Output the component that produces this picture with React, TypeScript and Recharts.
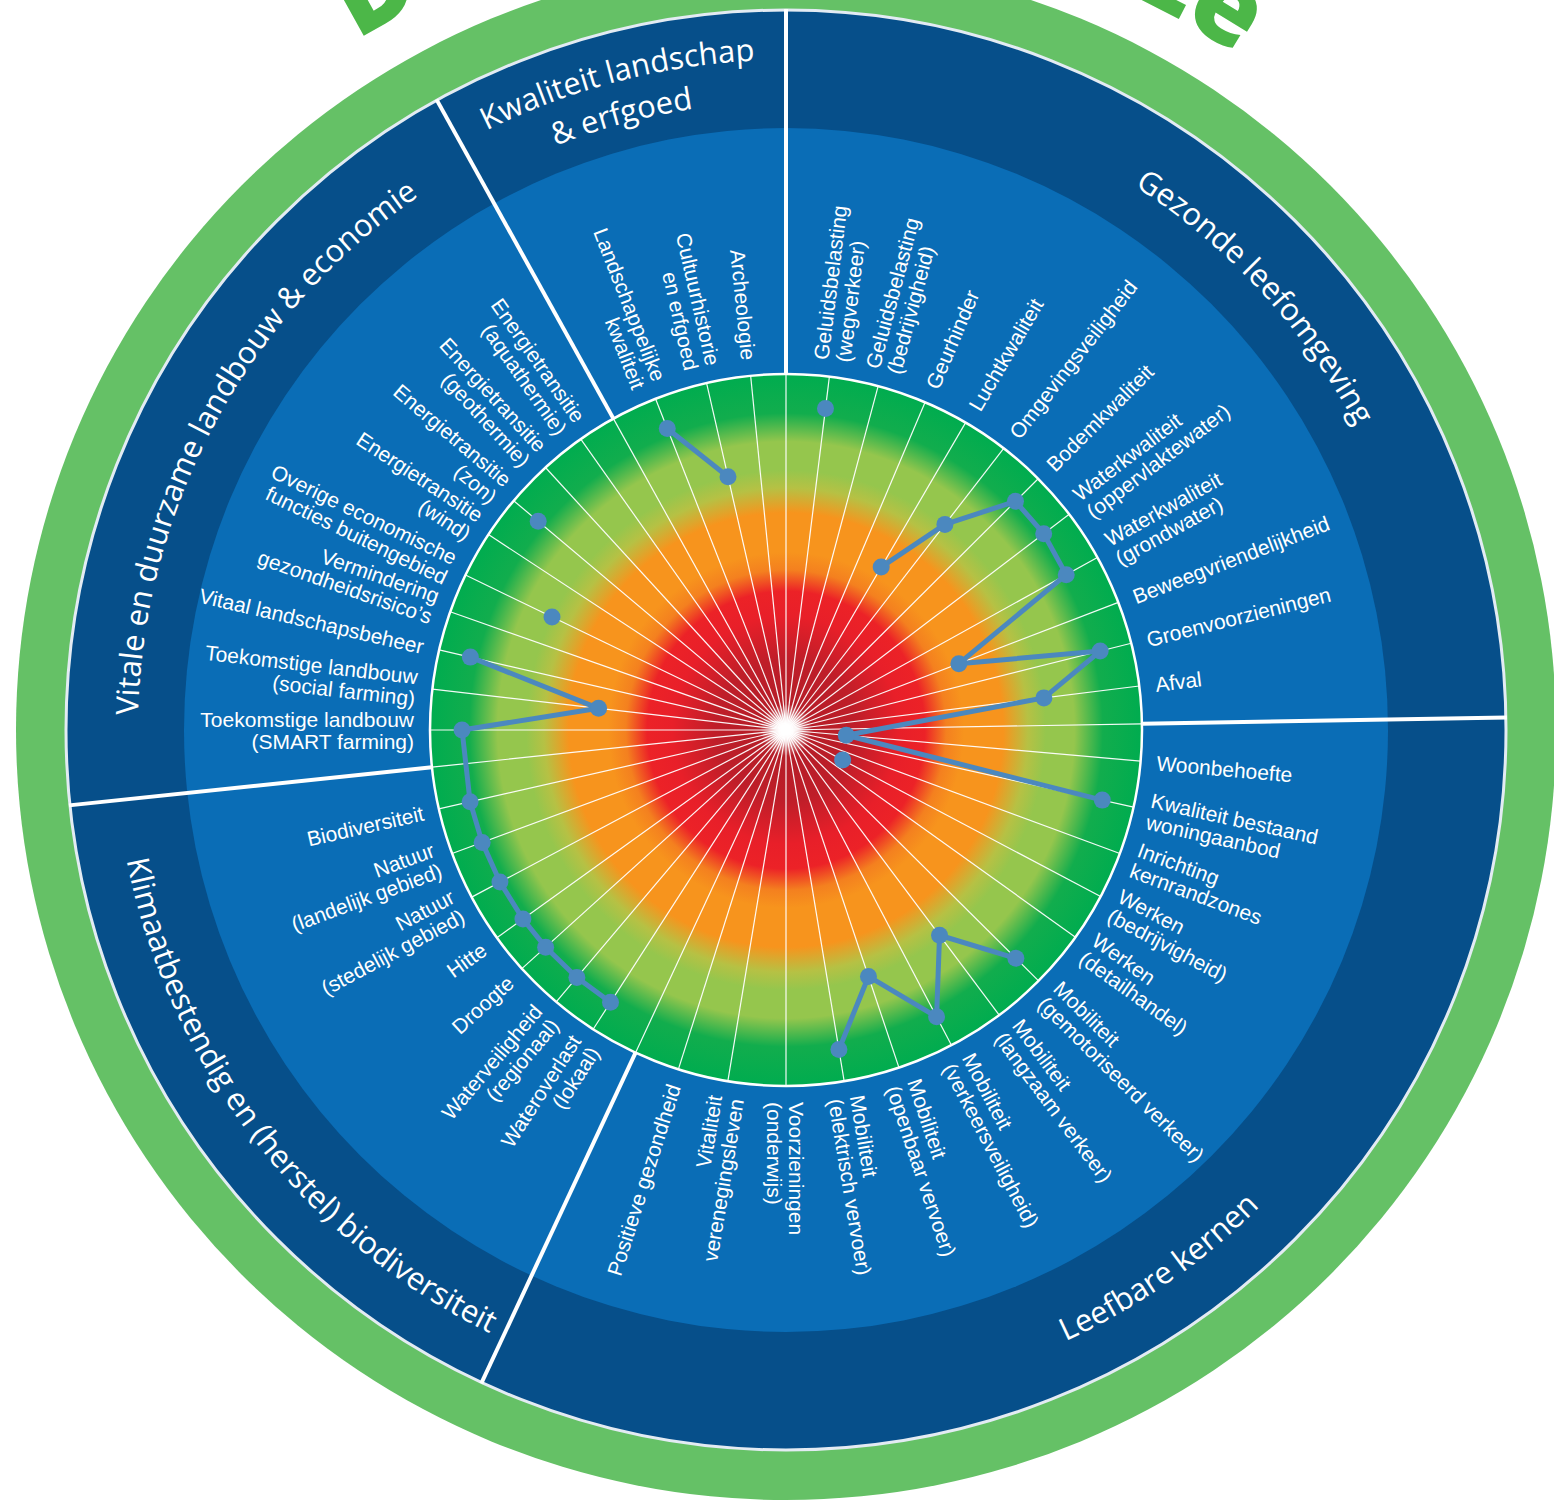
import React from 'react';
import { RadarChart, Radar, PolarGrid, PolarAngleAxis, PolarRadiusAxis } from 'recharts';

const W = 1554;
const H = 1503;
const CX = 786;
const CY = 730;
const WHEEL_R = 356;
const LABEL_R = 372;

// themes, clockwise from the top
const THEMES = [
  'Gezonde leefomgeving',
  'Leefbare kernen',
  'Klimaatbestendig en (herstel) biodiversiteit',
  'Vitale en duurzame landbouw & economie',
  'Kwaliteit landschap\n& erfgoed',
];

// indicator labels, clockwise from the top ("\n" = line break)
const LABELS = [
  'Geluidsbelasting\n(wegverkeer)',
  'Geluidsbelasting\n(bedrijvigheid)',
  'Geurhinder',
  'Luchtkwaliteit',
  'Omgevingsveiligheid',
  'Bodemkwaliteit',
  'Waterkwaliteit\n(oppervlaktewater)',
  'Waterkwaliteit\n(grondwater)',
  'Beweegvriendelijkheid',
  'Groenvoorzieningen',
  'Afval',
  'Woonbehoefte',
  'Kwaliteit bestaand\nwoningaanbod',
  'Inrichting\nkernrandzones',
  'Werken\n(bedrijvigheid)',
  'Werken\n(detailhandel)',
  'Mobiliteit\n(gemotoriseerd verkeer)',
  'Mobiliteit\n(langzaam verkeer)',
  'Mobiliteit\n(verkeersveiligheid)',
  'Mobiliteit\n(openbaar vervoer)',
  'Mobiliteit\n(elektrisch vervoer)',
  'Voorzieningen\n(onderwijs)',
  'Vitaliteit\nverenegingsleven',
  'Positieve gezondheid',
  'Wateroverlast\n(lokaal)',
  'Waterveiligheid\n(regionaal)',
  'Droogte',
  'Hitte',
  'Natuur\n(stedelijk gebied)',
  'Natuur\n(landelijk gebied)',
  'Biodiversiteit',
  'Toekomstige landbouw\n(SMART farming)',
  'Toekomstige landbouw\n(social farming)',
  'Vitaal landschapsbeheer',
  'Vermindering\ngezondheidsrisico’s',
  'Overige economische\nfuncties buitengebied',
  'Energietransitie\n(wind)',
  'Energietransitie\n(zon)',
  'Energietransitie\n(geothermie)',
  'Energietransitie\n(aquathermie)',
  'Landschappelijke\nkwaliteit',
  'Cultuurhistorie\nen erfgoed',
  'Archeologie',
];

// spoke of each indicator, degrees clockwise from north
const ANGLES = [
  7, 15, 23, 30.3, 37.7, 45.1, 52.7, 61, 69, 75.9, 82.9,
  95, 102.5, 110.3, 117.9, 125.6, 134.8, 143.2, 152.3, 161.5, 170.6, 180, 189.4, 197.6,
  212.8, 220.2, 227.9, 234.3, 242, 249.7, 257.2,
  270, 276.6, 283, 289.4, 295.8, 303.3, 310.1, 317.5, 324.8,
  338.5, 347.1, 354.3,
];

// score per indicator (0 = centre, 100 = rim); null = not scored
const SCORES: (number | null)[] = [
  91, null, null, 53, 73, 91, 91, 90, 52, 91, 73,
  17, 91, null, 18, null, 91, 72, 91, 73, 91, null, null, null,
  91, 91, 91, 91, 91, 91, 91,
  91, 53, 91, null, 73, null, 91, null, null,
  91, 73, null,
];

// spokes that separate the themes
const BOUNDARY_ANGLES = [0, 89, 205, 264, 331];

const data = LABELS.map((label, i) => ({ label, angle: ANGLES[i], score: SCORES[i] }));

const rad = (d: number) => (d * Math.PI) / 180;
const toXY = (r: number, deg: number): [number, number] => [
  CX + r * Math.sin(rad(deg)),
  CY - r * Math.cos(rad(deg)),
];
const arc = (r: number, from: number, to: number, sweep: 0 | 1) => {
  const [x1, y1] = toXY(r, from);
  const [x2, y2] = toXY(r, to);
  return `M${x1},${y1} A${r},${r} 0 0 ${sweep} ${x2},${y2}`;
};

// where the theme titles sit in the dark ring (one entry per text line)
const TITLE_LAYOUT = [
  [{ center: 47.3, r: 646, outward: true }],
  [{ center: 145.3, r: 672, outward: false }],
  [{ center: 232.5, r: 672, outward: false }],
  [{ center: 298.4, r: 648, outward: true }],
  [
    { center: 345.4, r: 670, outward: true },
    { center: 345, r: 628, outward: true },
  ],
];

const FONT = '"Liberation Sans", Arial, sans-serif';
const TITLE_FONT = '"Open Sans", sans-serif';
const LINE_COLOR = '#4b88bf';

const isScored = (i: number) => SCORES[i] != null;

function LabelTick(props: any) {
  const { payload } = props;
  const coord = payload?.coordinate;
  if (coord == null) return null;
  let theta = (90 - coord) % 360;
  if (theta < 0) theta += 360;
  let idx = 0;
  ANGLES.forEach((a, i) => {
    if (Math.abs(a - payload.value) < Math.abs(ANGLES[idx] - payload.value)) idx = i;
  });
  const [x, y] = toXY(LABEL_R, theta);
  const right = theta > 0.5 && theta <= 180.5;
  const rot = right ? theta - 90 : theta + 90;
  const lines = LABELS[idx].split('\n');
  const lh = 22;
  return (
    <text
      x={x}
      y={y}
      transform={`rotate(${rot} ${x} ${y})`}
      textAnchor={right ? 'start' : 'end'}
      fill="#ffffff"
      fontSize={21}
      fontFamily={FONT}
    >
      {lines.map((l, i) => (
        <tspan key={i} x={x} y={y + (i - (lines.length - 1) / 2) * lh + 8}>
          {l}
        </tspan>
      ))}
    </text>
  );
}

// the polyline breaks wherever an indicator has no score
function Trace(props: any) {
  const pts: any[] = props.points || [];
  let d = '';
  let open = false;
  pts.forEach((p, i) => {
    if (!isScored(i) || !Number.isFinite(p.x) || !Number.isFinite(p.y)) {
      open = false;
      return;
    }
    d += `${open ? 'L' : 'M'}${p.x},${p.y}`;
    open = true;
  });
  return <path d={d} fill="none" stroke={LINE_COLOR} strokeWidth={5} strokeLinejoin="round" strokeLinecap="round" />;
}

function Dot(props: any) {
  const { cx, cy, index } = props;
  if (!isScored(index) || !Number.isFinite(cx) || !Number.isFinite(cy)) return <g key={`d${index}`} />;
  return <circle key={`d${index}`} cx={cx} cy={cy} r={8.5} fill={LINE_COLOR} />;
}

function Backdrop() {
  return (
    <svg width={W} height={H} style={{ position: 'absolute', left: 0, top: 0 }}>
      <defs>
        <radialGradient id="wheel" cx={CX} cy={CY} r={WHEEL_R} gradientUnits="userSpaceOnUse">
          <stop offset="0" stopColor="#ffffff" />
          <stop offset="0.05" stopColor="#b41d27" />
          <stop offset="0.2" stopColor="#bf1e29" />
          <stop offset="0.32" stopColor="#e81f29" />
          <stop offset="0.39" stopColor="#ec2227" />
          <stop offset="0.45" stopColor="#f4801f" />
          <stop offset="0.5" stopColor="#f7941d" />
          <stop offset="0.61" stopColor="#f7941d" />
          <stop offset="0.68" stopColor="#b6c144" />
          <stop offset="0.73" stopColor="#95c64d" />
          <stop offset="0.81" stopColor="#95c64d" />
          <stop offset="0.89" stopColor="#12ad4d" />
          <stop offset="1" stopColor="#00ac4f" />
        </radialGradient>
        <radialGradient id="glow" cx={CX} cy={CY} r={26} gradientUnits="userSpaceOnUse">
          <stop offset="0" stopColor="#ffffff" stopOpacity="1" />
          <stop offset="0.4" stopColor="#ffffff" stopOpacity="0.7" />
          <stop offset="1" stopColor="#ffffff" stopOpacity="0" />
        </radialGradient>
        {TITLE_LAYOUT.map((rows, i) =>
          rows.map((t, j) => (
            <path
              key={`p${i}-${j}`}
              id={`title-${i}-${j}`}
              d={t.outward ? arc(t.r, t.center - 80, t.center + 80, 1) : arc(t.r, t.center + 80, t.center - 80, 0)}
            />
          ))
        )}
        <path id="headline" d={arc(812, -80, 80, 1)} />
      </defs>

      <circle cx={CX} cy={CY} r={770} fill="#65c166" />
      <text fontSize={108} fontWeight={800} fontFamily={TITLE_FONT} fill="#4cb748" textAnchor="middle">
        <textPath href="#headline" startOffset="50.6%">Duurzame keuze</textPath>
      </text>
      <circle cx={CX} cy={CY} r={720} fill="#064f8a" stroke="#e3ebf3" strokeWidth={3} />
      <circle cx={CX} cy={CY} r={602} fill="#0a6db6" />
      {BOUNDARY_ANGLES.map((a) => {
        const [x1, y1] = toXY(WHEEL_R, a);
        const [x2, y2] = toXY(721, a);
        return <line key={a} x1={x1} y1={y1} x2={x2} y2={y2} stroke="#ffffff" strokeWidth={4} />;
      })}
      <circle cx={CX} cy={CY} r={WHEEL_R} fill="url(#wheel)" stroke="#ffffff" strokeWidth={2.5} />
      <circle cx={CX} cy={CY} r={26} fill="url(#glow)" />

      {THEMES.map((title, i) =>
        title.split('\n').map((line, j) => (
          <text key={`t${i}-${j}`} fontSize={31} fontFamily={TITLE_FONT} fill="#ffffff" textAnchor="middle">
            <textPath href={`#title-${i}-${j}`} startOffset="50%">{line}</textPath>
          </text>
        ))
      )}
    </svg>
  );
}

export default function App() {
  const spokes = [...ANGLES, ...BOUNDARY_ANGLES].map((a) => 90 - a);
  return (
    <div style={{ position: 'absolute', left: 0, top: 0, width: W, height: H, overflow: 'hidden', background: '#ffffff' }}>
      <Backdrop />
      <div style={{ position: 'absolute', left: 0, top: 0 }}>
        <RadarChart
          width={W}
          height={H}
          data={data}
          cx={CX}
          cy={CY}
          outerRadius={WHEEL_R}
          startAngle={90}
          endAngle={-270}
          margin={{ top: 0, right: 0, bottom: 0, left: 0 }}
        >
          <PolarGrid
            gridType="circle"
            polarAngles={spokes}
            polarRadius={[0]}
            outerRadius={349}
            stroke="#ffffff"
            strokeWidth={1.2}
            strokeOpacity={0.95}
          />
          <PolarAngleAxis
            dataKey="angle"
            type="number"
            domain={[0, 360]}
            ticks={ANGLES as any}
            tick={<LabelTick />}
            tickLine={false}
            axisLine={false}
          />
          <PolarRadiusAxis domain={[0, 100]} tick={false} axisLine={false} />
          <Radar
            dataKey="score"
            stroke={LINE_COLOR}
            strokeWidth={5}
            fill="none"
            fillOpacity={0}
            shape={(p: any) => <Trace {...p} />}
            dot={<Dot />}
            connectNulls={false}
            isAnimationActive={false}
          />
        </RadarChart>
      </div>
    </div>
  );
}
